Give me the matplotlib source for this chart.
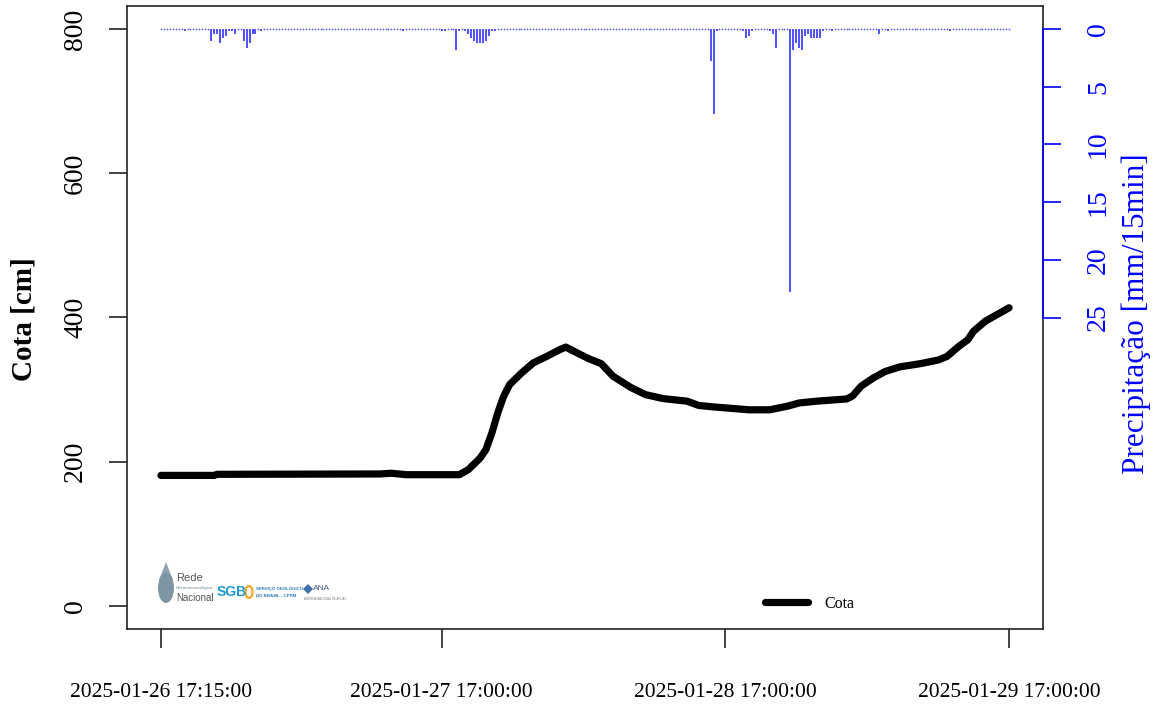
import numpy as np
import pandas as pd
import matplotlib
matplotlib.use("Agg")
import matplotlib.pyplot as plt
import matplotlib.dates as mdates
from matplotlib.patches import Ellipse, Polygon

# ==================================================
# data
# ==================================================

start_time = "2025-01-26 17:15"
end_time = "2025-01-29 17:00"

# water level (cota), cm
cota_times = [
    "2025-01-26 17:15", "2025-01-26 21:45", "2025-01-26 22:00",
    "2025-01-27 11:45", "2025-01-27 12:45", "2025-01-27 14:00",
    "2025-01-27 18:30", "2025-01-27 19:15", "2025-01-27 20:15",
    "2025-01-27 20:45", "2025-01-27 21:15", "2025-01-27 21:45",
    "2025-01-27 22:15", "2025-01-27 22:45", "2025-01-27 23:45",
    "2025-01-28 00:45", "2025-01-28 02:00", "2025-01-28 03:00",
    "2025-01-28 03:30", "2025-01-28 04:45", "2025-01-28 05:30",
    "2025-01-28 06:30", "2025-01-28 07:30", "2025-01-28 09:00",
    "2025-01-28 10:15", "2025-01-28 11:45", "2025-01-28 13:45",
    "2025-01-28 14:45", "2025-01-28 16:00", "2025-01-28 17:30",
    "2025-01-28 19:00", "2025-01-28 20:45", "2025-01-28 22:15",
    "2025-01-28 23:15", "2025-01-29 00:45", "2025-01-29 03:15",
    "2025-01-29 03:45", "2025-01-29 04:30", "2025-01-29 05:30",
    "2025-01-29 06:30", "2025-01-29 07:45", "2025-01-29 09:30",
    "2025-01-29 11:00", "2025-01-29 11:45", "2025-01-29 12:45",
    "2025-01-29 13:30", "2025-01-29 14:00", "2025-01-29 15:00",
    "2025-01-29 16:15", "2025-01-29 17:00",
]
cota_values = [
    181, 181, 182.5,
    183, 184, 182,
    182, 189, 205,
    217, 240, 268,
    291, 307, 323,
    337, 347, 355.5,
    359, 348.5, 342.5,
    336, 318.5, 303,
    293, 287.5, 284,
    278, 276, 274,
    272, 272, 277,
    281.5, 284, 287,
    291, 305, 316,
    325, 331.5, 336,
    341, 346, 360,
    369, 381, 395,
    406.5, 413.5,
]

# rain (mm / 15 min), only the non-zero records
rain_times = [
    "2025-01-26 19:15", "2025-01-26 21:30", "2025-01-26 21:45",
    "2025-01-26 22:00", "2025-01-26 22:15", "2025-01-26 22:30",
    "2025-01-26 22:45", "2025-01-26 23:00", "2025-01-26 23:15",
    "2025-01-26 23:30", "2025-01-27 00:15", "2025-01-27 00:30",
    "2025-01-27 00:45", "2025-01-27 01:00", "2025-01-27 01:15",
    "2025-01-27 01:45", "2025-01-27 13:45", "2025-01-27 17:00",
    "2025-01-27 17:15", "2025-01-27 18:15", "2025-01-27 18:30",
    "2025-01-27 19:00", "2025-01-27 19:15", "2025-01-27 19:30",
    "2025-01-27 19:45", "2025-01-27 20:00", "2025-01-27 20:15",
    "2025-01-27 20:30", "2025-01-27 20:45", "2025-01-27 21:00",
    "2025-01-27 21:15", "2025-01-27 21:30", "2025-01-28 15:45",
    "2025-01-28 16:00", "2025-01-28 16:15", "2025-01-28 18:30",
    "2025-01-28 18:45", "2025-01-28 19:00", "2025-01-28 19:15",
    "2025-01-28 20:45", "2025-01-28 21:00", "2025-01-28 21:15",
    "2025-01-28 22:30", "2025-01-28 22:45", "2025-01-28 23:00",
    "2025-01-28 23:15", "2025-01-28 23:30", "2025-01-28 23:45",
    "2025-01-29 00:00", "2025-01-29 00:15", "2025-01-29 00:30",
    "2025-01-29 00:45", "2025-01-29 01:00", "2025-01-29 01:15",
    "2025-01-29 02:00", "2025-01-29 06:00", "2025-01-29 06:45",
    "2025-01-29 12:00",
]
rain_values = [
    0.2, 1.0, 0.4,
    0.4, 1.2, 0.8,
    0.6, 0.2, 0.2,
    0.4, 1.0, 1.6,
    1.2, 0.4, 0.4,
    0.2, 0.2, 0.2,
    0.2, 1.8, 0.2,
    0.2, 0.4, 0.8,
    1.0, 1.2, 1.2,
    1.2, 1.0, 0.6,
    0.2, 0.2, 2.8,
    7.4, 0.2, 0.2,
    0.8, 0.6, 0.2,
    0.2, 0.4, 1.6,
    22.8, 1.8, 1.2,
    1.6, 1.8, 0.6,
    0.4, 0.8, 0.8,
    0.8, 0.8, 0.2,
    0.2, 0.4, 0.2,
    0.2,
]

tick_times = [
    "2025-01-26 17:15:00", "2025-01-27 17:00:00",
    "2025-01-28 17:00:00", "2025-01-29 17:00:00",
]

cota_ticks = [0, 200, 400, 600, 800]
rain_ticks = [0, 5, 10, 15, 20, 25]

# ==================================================
# build series
# ==================================================

t_cota = pd.to_datetime(cota_times)

t_all = pd.date_range(start_time, end_time, freq="15min")
rain = pd.Series(0.0, index=t_all)
rain.loc[pd.to_datetime(rain_times)] = rain_values

# ==================================================
# figure
# ==================================================

W, H = 1154, 707
plt.rcParams["font.family"] = ["Liberation Serif", "DejaVu Serif"]

fig = plt.figure(figsize=(W / 100, H / 100), dpi=100)
ax = fig.add_axes([127 / W, 78 / H, 916 / W, 623 / H])

ax.plot(t_cota, cota_values, color="black", lw=5.2,
        solid_capstyle="round", solid_joinstyle="round", label="Cota", zorder=3)

x0 = mdates.date2num(pd.Timestamp(start_time))
x1 = mdates.date2num(pd.Timestamp(end_time))
pad = 0.04 * (x1 - x0)
ax.set_xlim(x0 - pad, x1 + pad)
ax.set_ylim(-32, 832)

ax.set_xticks(pd.to_datetime(tick_times))
ax.set_xticklabels(tick_times, fontsize=15.5)
ax.set_yticks(cota_ticks)
ax.set_yticklabels([str(v) for v in cota_ticks], fontsize=20,
                   rotation=90, va="center")

ax.tick_params(axis="x", direction="out", length=14, width=1.2,
               pad=25, colors="#222222", labelcolor="black")
ax.tick_params(axis="y", direction="out", length=13, width=1.2,
               pad=15, colors="#222222", labelcolor="black")

for s in ax.spines.values():
    s.set_linewidth(1.2)
    s.set_color("#222222")

# rain on the right axis, reversed
ax2 = ax.twinx()
wet = rain[rain > 0]
dry = rain[rain == 0]
ax2.vlines(wet.index, 0, wet.values, color="#1f1fff", lw=1.1)
ax2.plot(dry.index, dry.values, ls="none", marker="s", ms=1.1,
         mew=0, color="#5555ff")
ax2.set_ylim(52, -2)
ax2.set_xlim(x0 - pad, x1 + pad)
ax2.set_yticks(rain_ticks)
ax2.set_yticklabels([str(v) for v in rain_ticks], fontsize=20,
                    rotation=90, va="center")
ax2.tick_params(axis="y", direction="out", length=13, width=1.2,
                pad=18, colors="blue", labelcolor="blue")
for k in ["left", "top", "bottom"]:
    ax2.spines[k].set_visible(False)
ax2.spines["right"].set_bounds(0, 25)
ax2.spines["right"].set_color("blue")
ax2.spines["right"].set_linewidth(1.2)

# axis titles
fig.text(24 / W, 1 - 319 / H, "Cota [cm]", rotation=90, ha="center",
         va="center", fontsize=21, fontweight="bold")
fig.text(1136 / W, 1 - 314 / H, "Precipitação [mm/15min]", rotation=90,
         ha="center", va="center", fontsize=22.5, color="blue")

# legend
ax.legend(loc="center left", bbox_to_anchor=((765 - 127) / 916, (629 - 604) / 623),
          frameon=False, fontsize=11.5, handlelength=2.7, handletextpad=1.0,
          borderpad=0, borderaxespad=0)

# ==================================================
# small logo block (approximation)
# ==================================================

def fx(x):
    return x / W


def fy(y):
    return 1 - y / H


drop = Polygon([(fx(166), fy(562)), (fx(159), fy(580)), (fx(173), fy(580))],
               closed=True, transform=fig.transFigure, color="#8fa3b0", lw=0)
fig.add_artist(drop)
fig.add_artist(Ellipse((fx(166), fy(588)), 16 / W, 30 / H,
                       transform=fig.transFigure, color="#7f95a3", lw=0))
fig.text(fx(176), fy(578), "Rede", fontsize=8, color="#555555",
         family="Liberation Sans", va="center")
fig.text(fx(176), fy(588), "Hidrometeorológica", fontsize=3.2,
         color="#7a8f9c", family="Liberation Sans", va="center")
fig.text(fx(176), fy(598), "Nacional", fontsize=7, color="#555555",
         family="Liberation Sans", va="center")
fig.text(fx(217), fy(592), "SGB", fontsize=10, color="#1e9ad6",
         fontweight="bold", family="Liberation Sans", va="center")
fig.add_artist(Ellipse((fx(249), fy(592)), 7 / W, 12 / H,
                       transform=fig.transFigure, fc="none",
                       ec="#f2a31b", lw=1.5))
fig.text(fx(256), fy(589), "SERVIÇO GEOLÓGICO", fontsize=3.2,
         color="#2a7ab8", fontweight="bold", family="Liberation Sans",
         va="center")
fig.text(fx(256), fy(596), "DO BRASIL - CPRM", fontsize=3.2,
         color="#2a7ab8", fontweight="bold", family="Liberation Sans",
         va="center")
fig.add_artist(Polygon([(fx(303), fy(589)), (fx(308), fy(584)),
                        (fx(313), fy(589)), (fx(308), fy(594))],
                       closed=True, transform=fig.transFigure,
                       color="#3f6fa8", lw=0))
fig.text(fx(313), fy(589), "ANA", fontsize=6, color="#3f5f8f",
         family="Liberation Sans", va="center")
fig.text(fx(304), fy(599), "AGÊNCIA NACIONAL DE ÁGUAS", fontsize=2,
         color="#777777", family="Liberation Sans", va="center")

fig.savefig("out.png", dpi=100)
